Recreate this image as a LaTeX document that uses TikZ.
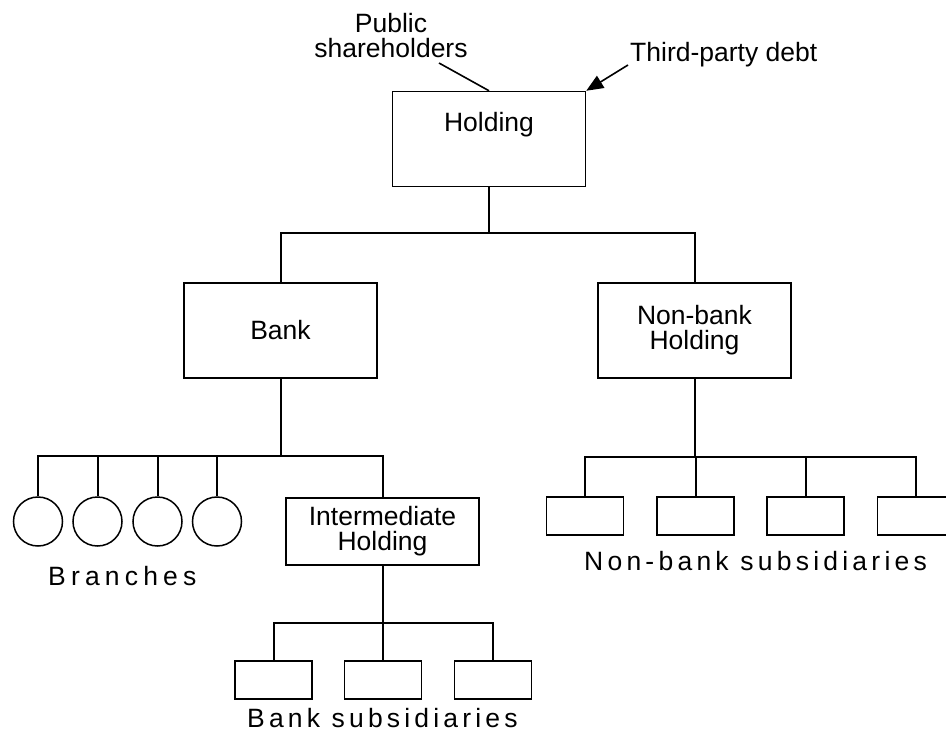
\documentclass[tikz,border=0pt]{standalone}
\usepackage{fontspec}
\setmainfont{Liberation Sans}
\usetikzlibrary{arrows.meta}
\begin{document}
\begin{tikzpicture}[x=1pt,y=-1pt,
  every node/.style={font=\fontsize{26.5}{25}\selectfont},
  box/.style={draw,line width=1.5pt,minimum width=193pt,minimum height=95pt,inner sep=0pt,align=center},
  sbox/.style={draw,line width=1.5pt,minimum width=77pt,minimum height=38pt,inner sep=0pt},
  br/.style={draw,circle,line width=1.5pt,minimum size=49pt,inner sep=0pt},
  conn/.style={line width=2pt},
  lbl/.style={inner sep=0pt,align=center}]
\useasboundingbox (0,0) rectangle (946,740);
\clip (0,0) rectangle (946,740);

% main boxes
\node[box] (hold) at (489,139) {};
\node[lbl,anchor=base] (holdt) at (489,131) {Holding};
\node[box] (bank) at (280.5,330.5) {Bank};
\node[box] (nb) at (694.5,330.5) {Non-bank\\Holding};
\node[box,minimum height=67pt] (ih) at (382.5,531.5) {Intermediate\\Holding};

% branches
\node[br] (c1) at (38,521.5) {};
\node[br] (c2) at (97.5,521.5) {};
\node[br] (c3) at (157.5,521.5) {};
\node[br] (c4) at (217,521.5) {};

% bank subsidiaries
\node[sbox] (bs1) at (273.5,680) {};
\node[sbox] (bs2) at (383,680) {};
\node[sbox] (bs3) at (493,680) {};

% non-bank subsidiaries
\node[sbox] (ns1) at (585,516) {};
\node[sbox] (ns2) at (695.5,516) {};
\node[sbox] (ns3) at (805.5,516) {};
\node[sbox] (ns4) at (916,516) {};

% labels
\node[lbl,anchor=base west] (brt) at (48,585) {\addfontfeature{LetterSpace=19.5}Branches};
\node[lbl,anchor=base west] (bst) at (247,727) {\addfontfeature{LetterSpace=15.8}Bank subsidiaries};
\node[lbl,anchor=base west] (nst) at (584,570) {\addfontfeature{LetterSpace=16}Non-bank subsidiaries};
\node[lbl,anchor=base west] (tpd) at (630,61) {Third-party debt};
\node[lbl,anchor=north] (pub) at (391,12.7) {Public\\shareholders};

% connectors
\coordinate (j1) at (0,233);
\draw[conn] (hold.south) -- (hold.south |- j1);
\draw[conn] (bank.north) -- (bank.north |- j1) -| (nb.north);

\coordinate (j2) at (0,456);
\draw[conn] (bank.south) -- (bank.south |- j2);
\draw[conn] (c1.north) -- (c1.north |- j2) -| (ih.north);
\draw[conn] (c2.north) -- (c2.north |- j2);
\draw[conn] (c3.north) -- (c3.north |- j2);
\draw[conn] (c4.north) -- (c4.north |- j2);

\coordinate (j3) at (0,623);
\draw[conn] (ih.south) -- (ih.south |- j3);
\draw[conn] (bs1.north) -- (bs1.north |- j3) -| (bs3.north);
\draw[conn] (bs2.north) -- (bs2.north |- j3);

\coordinate (j4) at (0,457);
\draw[conn] (nb.south) -- (nb.south |- j4);
\draw[conn] (ns1.north) -- (ns1.north |- j4) -| (ns4.north);
\draw[conn] (ns2.north) -- (ns2.north |- j4);
\draw[conn] (ns3.north) -- (ns3.north |- j4);

\coordinate (pubend) at (439,63);
\draw[line width=1.6pt] (pubend) -- (hold.north);
\coordinate (tpdend) at (628,65);
\draw[line width=1.6pt,-{Triangle[length=17pt,width=14pt]}] (tpdend) -- (hold.north east);
\end{tikzpicture}
\end{document}
